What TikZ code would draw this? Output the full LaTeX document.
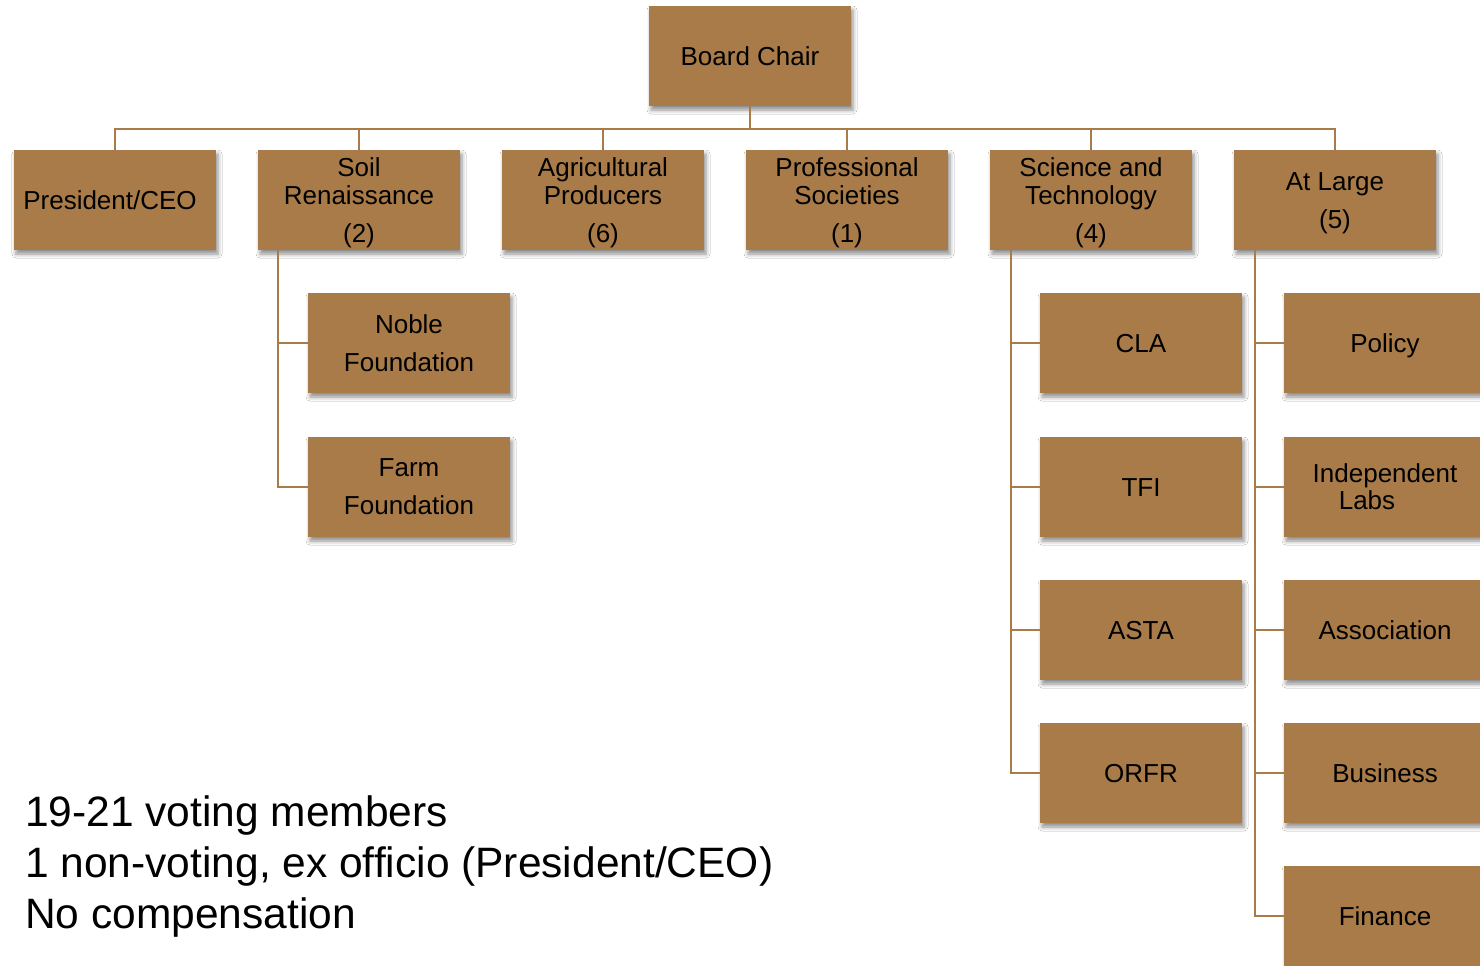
\documentclass[tikz,border=0pt]{standalone}
\usepackage{fontspec}
\setmainfont{Liberation Sans}
\usetikzlibrary{shadows.blur}
\definecolor{boxbrown}{HTML}{A87B48}
\tikzset{
  orgbox/.style={draw=none, fill=boxbrown, minimum width=202pt, minimum height=100pt,
    inner sep=0pt, align=center, text=black,
    font=\fontsize{26pt}{28pt}\selectfont,
    blur shadow={shadow xshift=2pt, shadow yshift=-4pt, shadow blur radius=4pt, shadow opacity=45}},
  oneline/.style={text height=19pt, text depth=0pt},
  lbl/.style={inner sep=0pt, align=center, text=black, font=\fontsize{26pt}{28pt}\selectfont},
  link/.style={draw=boxbrown, line width=2pt},
  note/.style={anchor=base west, inner sep=0pt, font=\fontsize{42.5pt}{51pt}\selectfont}
}
\begin{document}
\begin{tikzpicture}[x=1pt,y=-1pt]
\useasboundingbox (0,0) rectangle (1480,966);
\clip (0,0) rectangle (1480,966);
\fill[white] (0,0) rectangle (1480,966);
% top
\node[orgbox, oneline] (chair) at (750,56) {Board Chair};
% level 2
\node[orgbox, label={[lbl, xshift=-5pt, yshift=0pt]center:President/CEO}] (pres) at (115,200) {};
\node[orgbox, label={[lbl, yshift=-3pt]center:{Soil\\Renaissance\\[10pt](2)}}] (soil) at (359,200) {};
\node[orgbox, label={[lbl, yshift=-3pt]center:{Agricultural\\Producers\\[10pt](6)}}] (agri) at (603,200) {};
\node[orgbox, label={[lbl, yshift=-3pt]center:{Professional\\Societies\\[10pt](1)}}] (prof) at (847,200) {};
\node[orgbox, label={[lbl, yshift=-3pt]center:{Science and\\Technology\\[10pt](4)}}] (sci) at (1091,200) {};
\node[orgbox, label={[lbl, yshift=-3pt]center:{At Large\\[10pt](5)}}] (large) at (1335,200) {};
% soil children
\node[orgbox] (noble) at (409,343) {Noble\\[10pt]Foundation};
\node[orgbox] (farm) at (409,487) {Farm\\[10pt]Foundation};
% science children
\node[orgbox, oneline] (cla) at (1141,343) {CLA};
\node[orgbox, oneline] (tfi) at (1141,487) {TFI};
\node[orgbox, oneline] (asta) at (1141,630) {ASTA};
\node[orgbox, oneline] (orfr) at (1141,773) {ORFR};
% at large children
\node[orgbox, oneline] (policy) at (1385,343) {Policy};
\node[orgbox] (labs) at (1385,487) {Independent\\[-1pt]Labs\hspace*{36pt}};
\node[orgbox, oneline] (assoc) at (1385,630) {Association};
\node[orgbox, oneline] (bus) at (1385,773) {Business};
\node[orgbox, oneline] (fin) at (1385,916) {Finance};
% connectors
\coordinate (busline) at (750,129);
\draw[link] (chair.south) -- (busline);
\foreach \n in {pres,soil,agri,prof,sci,large}
  \draw[link] (busline) -| (\n.north);
\foreach \n in {noble,farm}
  \draw[link] ([xshift=20pt]soil.south west) |- (\n.west);
\foreach \n in {cla,tfi,asta,orfr}
  \draw[link] ([xshift=21pt]sci.south west) |- (\n.west);
\foreach \n in {policy,labs,assoc,bus,fin}
  \draw[link] ([xshift=21pt]large.south west) |- (\n.west);
% notes
\node[note] (notes1) at (25,826) {19-21 voting members};
\node[note] (notes2) at (25,877) {1 non-voting, ex officio (President/CEO)};
\node[note] (notes3) at (25,928) {No compensation};
\end{tikzpicture}
\end{document}
